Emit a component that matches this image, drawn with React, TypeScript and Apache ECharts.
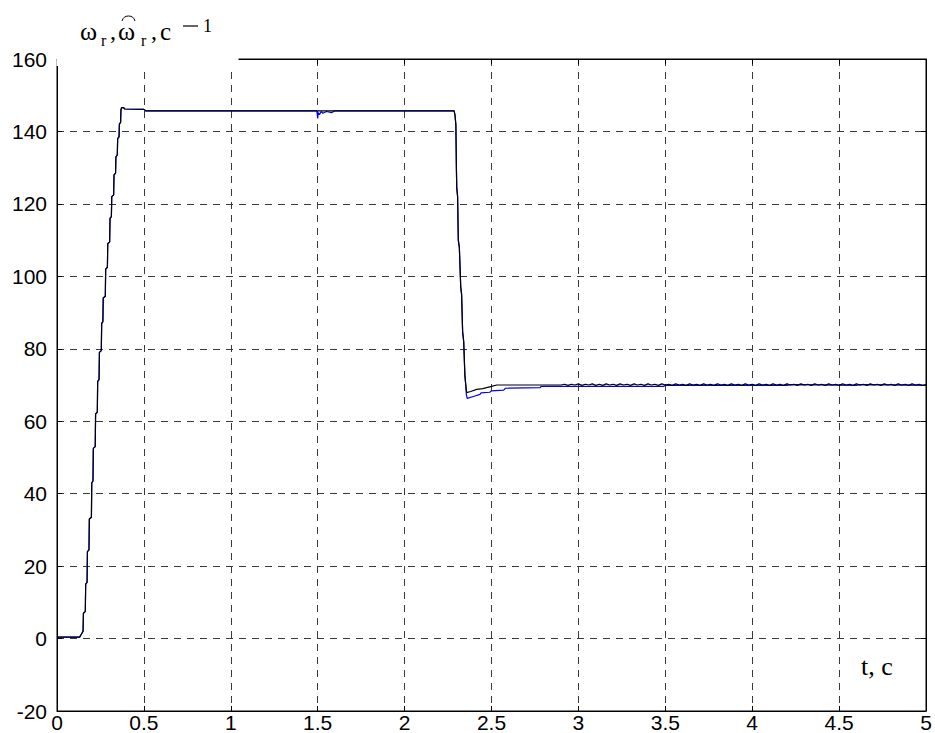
import React, { useEffect, useRef } from "react";
import * as echarts from "echarts";

// ---- data ----
const xTicks = [0, 0.5, 1, 1.5, 2, 2.5, 3, 3.5, 4, 4.5, 5];
const yTicks = [-20, 0, 20, 40, 60, 80, 100, 120, 140, 160];

// start-up staircase, common to both signals
const riseSpeed: [number, number][] = [
  [0, 0.4], [0.13, 0.4], [0.14, 1.2], [0.15, 2], [0.152, 7], [0.163, 7.5], [0.165, 15],
  [0.173, 15.5], [0.175, 24], [0.184, 24.5], [0.186, 33], [0.198, 33.5], [0.2, 43],
  [0.207, 43.5], [0.209, 52.5], [0.22, 53], [0.222, 62], [0.232, 62.5], [0.234, 71],
  [0.242, 71.5], [0.244, 79], [0.255, 79.5], [0.257, 87], [0.264, 87.5], [0.266, 94],
  [0.278, 94.5], [0.28, 102], [0.29, 102.5], [0.292, 109], [0.303, 109.5], [0.305, 116],
  [0.313, 116.5], [0.315, 122], [0.326, 122.5], [0.328, 128], [0.337, 128.5], [0.339, 133],
  [0.347, 133.5], [0.349, 138], [0.357, 138.5], [0.359, 142], [0.366, 142.5], [0.368, 146],
  [0.372, 146.6], [0.382, 146.6], [0.39, 146.2], [0.5, 146.1], [0.51, 145.7],
];

// braking (fall) segment, common to both signals
const fallSpeed: [number, number][] = [
  [2.285, 145.7], [2.29, 144.5], [2.295, 141.8], [2.298, 130], [2.3, 124.5], [2.305, 122],
  [2.309, 110], [2.315, 108], [2.323, 97], [2.328, 95], [2.334, 84.6], [2.34, 82],
  [2.347, 72.5], [2.352, 70],
];

// reference speed (black) after braking
const refTail: [number, number][] = [
  [2.357, 67.9], [2.38, 68.2], [2.415, 68.8], [2.45, 69], [2.5, 69.6], [2.53, 70],
  [2.9, 70], [2.92, 70.2], [2.94, 69.9], [2.96, 70.2], [2.98, 70], [3.0, 70.3], [3.02, 69.9],
  [3.04, 70.2], [3.06, 70], [3.08, 70.3], [3.1, 69.9], [3.12, 70.2], [3.14, 69.9], [3.16, 70.3],
  [3.18, 70], [3.2, 70.2], [3.22, 69.9], [3.24, 70.3], [3.26, 70], [3.28, 70.2], [3.3, 69.9],
  [3.32, 70.3], [3.34, 70], [3.36, 70.2], [3.38, 69.9], [3.4, 70.3], [3.42, 70], [3.44, 70.2],
  [3.46, 69.9], [3.48, 70.3], [3.5, 70], [3.52, 70.2], [3.54, 69.9], [3.56, 70.3], [3.58, 70],
  [3.6, 70.2], [3.62, 69.9], [3.64, 70.3], [3.66, 70], [3.68, 70.2], [3.7, 69.9], [3.72, 70.3],
  [3.74, 70], [3.76, 70.2], [3.78, 69.9], [3.8, 70.3], [3.82, 70], [3.84, 70.2], [3.86, 69.9],
  [3.88, 70.3], [3.9, 70], [3.92, 70.2], [3.94, 69.9], [3.96, 70.3], [3.98, 70], [4.0, 70.2],
  [4.02, 69.9], [4.04, 70.3], [4.06, 70], [4.08, 70.2], [4.1, 69.9], [4.12, 70.3], [4.14, 70],
  [4.16, 70.2], [4.18, 69.9], [4.2, 70.3], [4.22, 70], [4.24, 70.2], [4.26, 69.9], [4.28, 70.3],
  [4.3, 70], [4.32, 70.2], [4.34, 69.9], [4.36, 70.3], [4.38, 70], [4.4, 70.2], [4.42, 69.9],
  [4.44, 70.3], [4.46, 70], [4.48, 70.2], [4.5, 69.9], [4.52, 70.3], [4.54, 70], [4.56, 70.2],
  [4.58, 69.9], [4.6, 70.3], [4.62, 70], [4.64, 70.2], [4.66, 69.9], [4.68, 70.3], [4.7, 70],
  [4.72, 70.2], [4.74, 69.9], [4.76, 70.3], [4.78, 70], [4.8, 70.2], [4.82, 69.9], [4.84, 70.3],
  [4.86, 70], [4.88, 70.2], [4.9, 69.9], [4.92, 70.3], [4.94, 70], [4.96, 70.2], [4.98, 69.9],
  [5, 70.1],
];

// estimated speed (blue): plateau ripple near 1.5 s and tail
const estPlateau: [number, number][] = [
  [1.495, 145.7], [1.5, 143.6], [1.503, 145.2], [1.51, 144.6], [1.52, 145.5], [1.53, 145],
  [1.55, 145.5], [1.58, 145.2], [1.6, 145.7], [2.285, 145.7],
];
const estTail: [number, number][] = [
  [2.355, 67.5], [2.36, 66.3], [2.4, 66.9], [2.434, 67.4], [2.44, 67.8], [2.49, 68],
  [2.5, 68.4], [2.57, 68.6], [2.58, 69.1], [2.78, 69.3], [2.785, 69.6], [3.49, 69.6],
  [3.5, 69.9], [4.2, 69.9], [4.22, 70.1], [4.6, 69.9], [4.62, 70.1], [5, 69.9],
];

const refSpeed: [number, number][] = [...riseSpeed, [2.285, 145.7], ...fallSpeed, ...refTail];
const estSpeed: [number, number][] = [...riseSpeed, ...estPlateau, ...fallSpeed, ...estTail];

const W = 935;
const H = 733;

export default function App() {
  const ref = useRef<HTMLDivElement>(null);
  useEffect(() => {
    if (!ref.current) return;
    const chart = echarts.init(ref.current, undefined, { renderer: "svg" });
    const serif = "'Liberation Serif', 'Times New Roman', serif";
    const sans = "'Liberation Sans', Arial, sans-serif";
    const grid = { left: 57, right: 9, top: 59, bottom: 20 };
    const dash = { color: "#3a3a3a", width: 1, type: [7, 6] as number[] };
    const axisLine = { show: true, onZero: false, lineStyle: { color: "#000", width: 1 } };
    const axisTick = { show: true, inside: true, length: 5, lineStyle: { color: "#000" } };
    const baseX = {
      type: "value" as const,
      min: xTicks[0],
      max: xTicks[xTicks.length - 1],
      interval: 0.5,
    };
    const baseY = {
      type: "value" as const,
      min: yTicks[0],
      max: yTicks[yTicks.length - 1],
      interval: 20,
    };
    const txt = (text: string, x: number, y: number, size: number) => ({
      type: "text",
      z: 101,
      x,
      y,
      style: { text, font: `${size}px ${serif}`, fill: "#000", verticalAlign: "middle" },
    });
    chart.setOption({
      animation: false,
      backgroundColor: "#fff",
      grid: { ...grid, show: true, borderColor: "#000", borderWidth: 1 },
      xAxis: [
        {
          ...baseX,
          position: "bottom",
          axisLine,
          axisTick,
          axisLabel: { color: "#000", fontFamily: sans, fontSize: 21, margin: 1 },
          splitLine: { show: true, lineStyle: dash },
        },
        {
          ...baseX,
          position: "top",
          axisLine,
          axisTick,
          axisLabel: { show: false },
          splitLine: { show: false },
        },
      ],
      yAxis: [
        {
          ...baseY,
          position: "left",
          axisLine,
          axisTick,
          axisLabel: { color: "#000", fontFamily: sans, fontSize: 21, margin: 10 },
          splitLine: { show: true, lineStyle: dash },
        },
        {
          ...baseY,
          position: "right",
          axisLine,
          axisTick,
          axisLabel: { show: false },
          splitLine: { show: false },
        },
      ],
      series: [
        {
          type: "line",
          name: "estimated",
          data: estSpeed,
          showSymbol: false,
          symbol: "none",
          lineStyle: { color: "#0000ff", width: 1.2 },
          z: 3,
        },
        {
          type: "line",
          name: "reference",
          data: refSpeed,
          showSymbol: false,
          symbol: "none",
          lineStyle: { color: "#000000", width: 1.2 },
          z: 4,
        },
      ],
      graphic: [
        {
          type: "rect",
          z: 100,
          shape: { x: 56.5, y: 45, width: 182, height: 21 },
          style: { fill: "#fff" },
        },
        txt("ω", 80, 31, 26),
        txt("r", 101, 40, 16),
        txt(",", 110, 31, 24),
        txt("ω", 118, 31, 26),
        {
          type: "arc",
          z: 101,
          shape: { cx: 128.5, cy: 22.7, r: 6.7, startAngle: -2.88, endAngle: -0.26, clockwise: true },
          style: { stroke: "#000", lineWidth: 1, fill: "none" },
        },
        txt("r", 141, 40, 16),
        txt(",", 151, 31, 24),
        txt("c", 160, 31, 25),
        {
          type: "line",
          z: 101,
          shape: { x1: 183, y1: 26, x2: 198, y2: 26 },
          style: { stroke: "#000", lineWidth: 1.2 },
        },
        txt("1", 203, 26, 18),
        txt("t, c", 861, 666, 26),
      ],
    });
    return () => chart.dispose();
  }, []);
  return (
    <div
      ref={ref}
      style={{ position: "absolute", left: 0, top: 0, width: W, height: H, background: "#fff" }}
    />
  );
}
